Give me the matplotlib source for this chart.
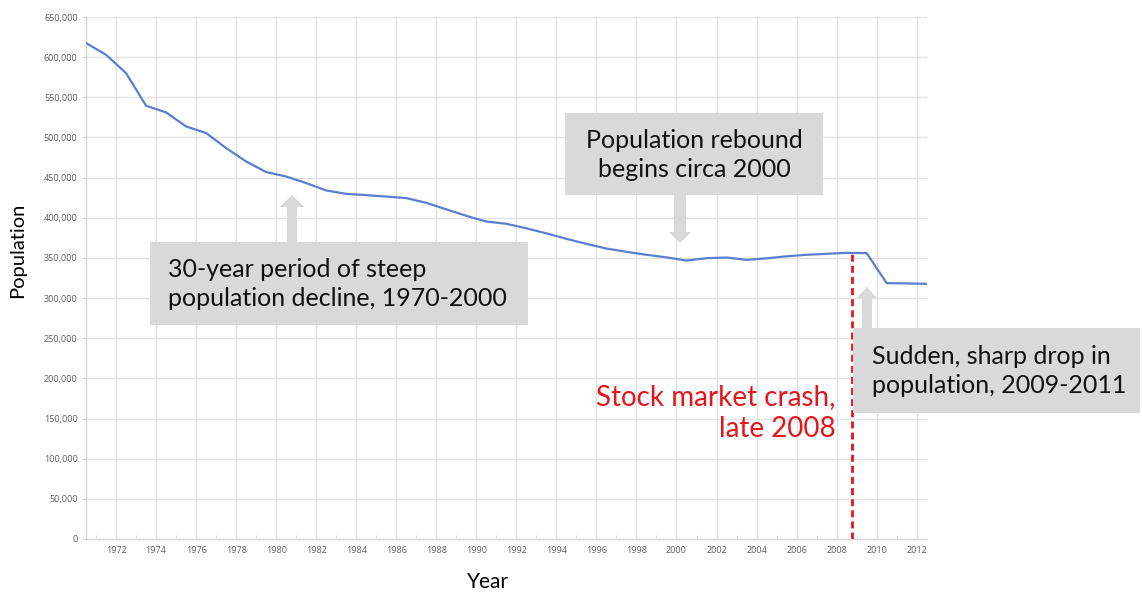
import numpy as np
import matplotlib
matplotlib.use("Agg")
import matplotlib.pyplot as plt
from matplotlib.patches import Rectangle, Polygon
from matplotlib.ticker import FuncFormatter, MultipleLocator

# Annual population estimates (mid-year)
years = list(range(1970, 2013))
population = [617600, 603000, 580200, 539500, 531200, 513700, 505500, 486800, 470100, 456900,
              451400, 443200, 434000, 429800, 428200, 426400, 424500, 418600, 410500, 402400,
              395300, 392500, 386900, 380600, 373800, 367500, 361700, 357600, 353900, 350700,
              346700, 349700, 350500, 347600, 349500, 352000, 353900, 355100, 356300, 356000,
              318600, 318300, 317700]

tick_years = list(range(1972, 2013, 2))
y_ticks = list(range(0, 650001, 50000))
crash_time = 2008.75  # late 2008

W, H = 1142, 594
fig = plt.figure(figsize=(W / 100, H / 100), dpi=100)
ax = fig.add_axes([86 / W, 1 - 539 / H, (926.7 - 86) / W, (539 - 17) / H])

# estimates are dated July 1 of each year
x = np.array(years) + 0.5
ax.plot(x, population, color="#5b7fcf", lw=1.6, zorder=3, solid_joinstyle="round")

ax.set_xlim(1970.5, 2012.5)
ax.set_ylim(0, 650000)
ax.set_xticks(tick_years)
ax.set_xticklabels([str(t) for t in tick_years])
ax.xaxis.set_minor_locator(MultipleLocator(1))
ax.set_yticks(y_ticks)
ax.yaxis.set_major_formatter(FuncFormatter(lambda v, p: f"{int(v):,}"))

grid_c = "#e2e2e2"
ax.grid(True, which="major", color=grid_c, lw=1.0, zorder=0)
for s in ["top", "right"]:
    ax.spines[s].set_visible(False)
for s in ["left", "bottom"]:
    ax.spines[s].set_color("#d6d6d6")
    ax.spines[s].set_linewidth(1.0)

ax.tick_params(axis="both", which="major", colors="#d6d6d6", labelcolor="#5a5a5a",
               length=3, width=0.8)
ax.tick_params(axis="x", which="major", length=0, pad=5)
ax.tick_params(axis="x", which="minor", direction="in", length=3, colors="#d6d6d6")
ax.tick_params(axis="y", pad=3)
for lab in ax.get_xticklabels() + ax.get_yticklabels():
    lab.set_fontfamily("Open Sans")
    lab.set_fontsize(6.5)

# crash marker
crash_top = np.interp(crash_time, x, population) + 2500
ax.vlines(crash_time, 0, crash_top, colors="#e8141b", lw=2.0,
          linestyles=(0, (2.5, 1.5)), zorder=4)

fig.text(18 / W, 1 - 250 / H, "Population", rotation=90, ha="center", va="center",
         family="Lato", fontsize=14.5, color="black")
fig.text(488 / W, 1 - 582 / H, "Year", ha="center", va="center",
         family="Lato", fontsize=15, color="black")


def fxy(px, py):
    return px / W, 1 - py / H


box_c = "#d9d9d9"


def add_box(x0, y0, x1, y1):
    fig.add_artist(Rectangle(fxy(x0, y1), (x1 - x0) / W, (y1 - y0) / H,
                             transform=fig.transFigure, facecolor=box_c,
                             edgecolor="none", zorder=5))


def add_arrow(xc, y_base, y_tip, shaft_w, head_w, head_len):
    d = 1 if y_tip > y_base else -1
    yh = y_tip - d * head_len
    pts = [(xc - shaft_w / 2, y_base), (xc - shaft_w / 2, yh), (xc - head_w / 2, yh),
           (xc, y_tip), (xc + head_w / 2, yh), (xc + shaft_w / 2, yh),
           (xc + shaft_w / 2, y_base)]
    fig.add_artist(Polygon([fxy(px, py) for px, py in pts], closed=True,
                           transform=fig.transFigure, facecolor=box_c,
                           edgecolor="none", zorder=5))


ann_font = dict(family="Lato", fontsize=18, color="#111111", linespacing=1.3, zorder=6)

# 30-year decline
add_arrow(292, 250, 195, 10, 25, 12)
add_box(150, 242, 528, 325)
fig.text(*fxy(168, 284), "30-year period of steep\npopulation decline, 1970-2000",
         ha="left", va="center", **ann_font)

# rebound
add_arrow(680, 190, 243, 12, 23, 11)
add_box(565, 113, 823, 195)
fig.text(*fxy(694, 155), "Population rebound\nbegins circa 2000",
         ha="center", va="center", multialignment="center", **ann_font)

# sharp drop
add_arrow(867, 335, 287, 10, 20, 11)
add_box(853, 328, 1140, 413)
fig.text(*fxy(872, 371), "Sudden, sharp drop in\npopulation, 2009-2011",
         ha="left", va="center", **ann_font)

# crash label
fig.text(*fxy(836, 413), "Stock market crash,\nlate 2008", ha="right", va="center",
         multialignment="right", family="Lato", fontsize=20, color="#e8141b",
         linespacing=1.3, zorder=6)

fig.savefig("out.png", dpi=100)
